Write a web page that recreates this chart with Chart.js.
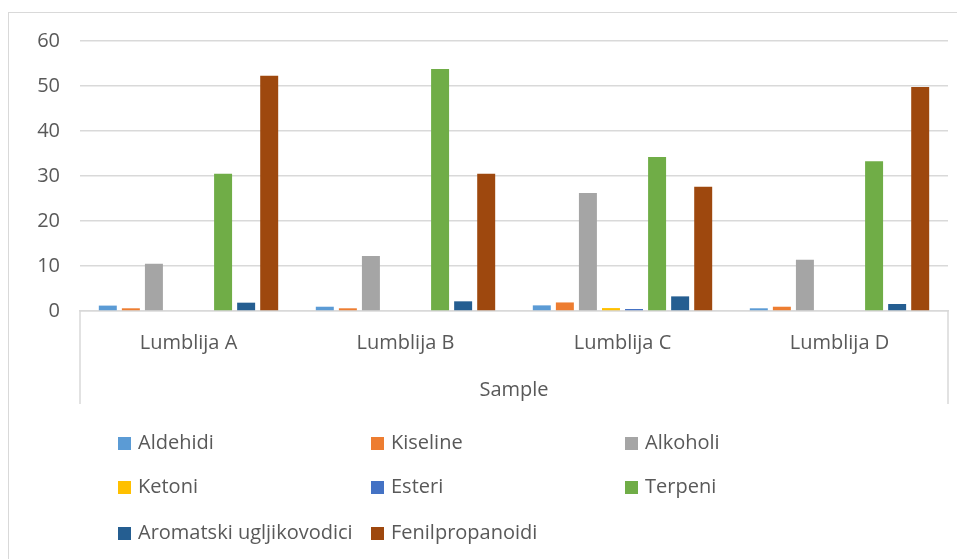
<!DOCTYPE html>
<html>
  <head>
    <script src="https://cdn.jsdelivr.net/npm/chart.js@4"></script>
    <style>
      body { margin: 0; background: #fff; font-family: 'Open Sans', sans-serif; }
      #wrap { position: relative; width: 957px; height: 559px; overflow: hidden; }
      #frame { position: absolute; left: 8px; top: 12px; width: 970px; height: 570px; border: 1.5px solid #d9d9d9; }
      #canvas { position: absolute; left: 0; top: 0; }
      .item { position: absolute; font-size: 20px; color: #595959; line-height: 24px; white-space: nowrap; }
      .item span { display: inline-block; width: 13px; height: 13px; margin-right: 7px; vertical-align: -1px; }
    </style>
  </head>

  <body>
    <div id="wrap">
      <div id="frame"></div>
      <canvas id="canvas" width="957" height="559"></canvas>
      <div id="legend"></div>
    </div>
    <script>
      const samples = ['Lumblija A', 'Lumblija B', 'Lumblija C', 'Lumblija D'];
      const groups = ['Aldehidi', 'Kiseline', 'Alkoholi', 'Ketoni', 'Esteri', 'Terpeni', 'Aromatski ugljikovodici', 'Fenilpropanoidi'];
      const colors = ['#5b9bd5', '#ed7d31', '#a5a5a5', '#ffc000', '#4472c4', '#70ad47', '#255e91', '#9e480e'];

      const aldehidi = [1.2, 0.95, 1.25, 0.6];
      const kiseline = [0.6, 0.6, 1.9, 0.95];
      const alkoholi = [10.5, 12.2, 26.2, 11.4];
      const ketoni = [0, 0, 0.65, 0];
      const esteri = [0, 0, 0.45, 0];
      const terpeni = [30.5, 53.8, 34.2, 33.3];
      const aromatski = [1.85, 2.15, 3.25, 1.55];
      const fenilpropanoidi = [52.3, 30.5, 27.6, 49.8];
      const series = [aldehidi, kiseline, alkoholi, ketoni, esteri, terpeni, aromatski, fenilpropanoidi];

      const yTicks = [0, 10, 20, 30, 40, 50, 60];

      // category box under the plot (Excel style)
      const boxLines = {
        id: 'boxLines',
        afterDraw(chart) {
          const { ctx, chartArea } = chart;
          const x = chart.scales.x;
          ctx.save();
          ctx.strokeStyle = '#d9d9d9';
          ctx.lineWidth = 1.5;
          ctx.beginPath();
          ctx.moveTo(chartArea.left, chartArea.bottom);
          ctx.lineTo(chartArea.left, x.bottom);
          ctx.moveTo(chartArea.right, chartArea.bottom);
          ctx.lineTo(chartArea.right, x.bottom);
          ctx.stroke();
          ctx.restore();
        },
      };

      const chart = new Chart(document.getElementById('canvas').getContext('2d'), {
        type: 'bar',
        data: {
          labels: samples,
          datasets: groups.map((g, i) => ({
            label: g,
            data: series[i],
            backgroundColor: colors[i],
            categoryPercentage: 0.85,
            barPercentage: 0.78,
          })),
        },
        options: {
          responsive: false,
          animation: false,
          layout: { padding: { top: 41, right: 9, bottom: 155, left: 0 } },
          plugins: { legend: { display: false }, tooltip: { enabled: false } },
          scales: {
            x: {
              grid: { display: false, drawTicks: false },
              border: { color: '#d9d9d9', width: 1.5 },
              ticks: { color: '#595959', font: { family: 'Open Sans', size: 20 }, padding: 20 },
              title: { display: true, text: 'Sample', color: '#595959', font: { family: 'Open Sans', size: 20 }, padding: 2 },
              afterFit(s) { s.height = 93; },
            },
            y: {
              min: 0,
              max: 60,
              afterBuildTicks(s) { s.ticks = yTicks.map((v) => ({ value: v })); },
              grid: { color: '#d9d9d9', lineWidth: 1.5, drawTicks: false },
              border: { display: false },
              ticks: { color: '#595959', font: { family: 'Open Sans', size: 20 }, padding: 20 },
              afterFit(s) { s.width = 80; },
            },
          },
        },
        plugins: [boxLines],
      });

      // legend in three columns, like the original
      const legend = document.getElementById('legend');
      const colX = [118, 371, 625];
      const rowY = [430, 474, 520];
      chart.data.datasets.forEach((ds, i) => {
        const d = document.createElement('div');
        d.className = 'item';
        d.style.left = colX[i % 3] + 'px';
        d.style.top = rowY[Math.floor(i / 3)] + 'px';
        d.innerHTML = '<span style="background:' + ds.backgroundColor + '"></span>' + ds.label;
        legend.appendChild(d);
      });
    </script>
  </body>
</html>
